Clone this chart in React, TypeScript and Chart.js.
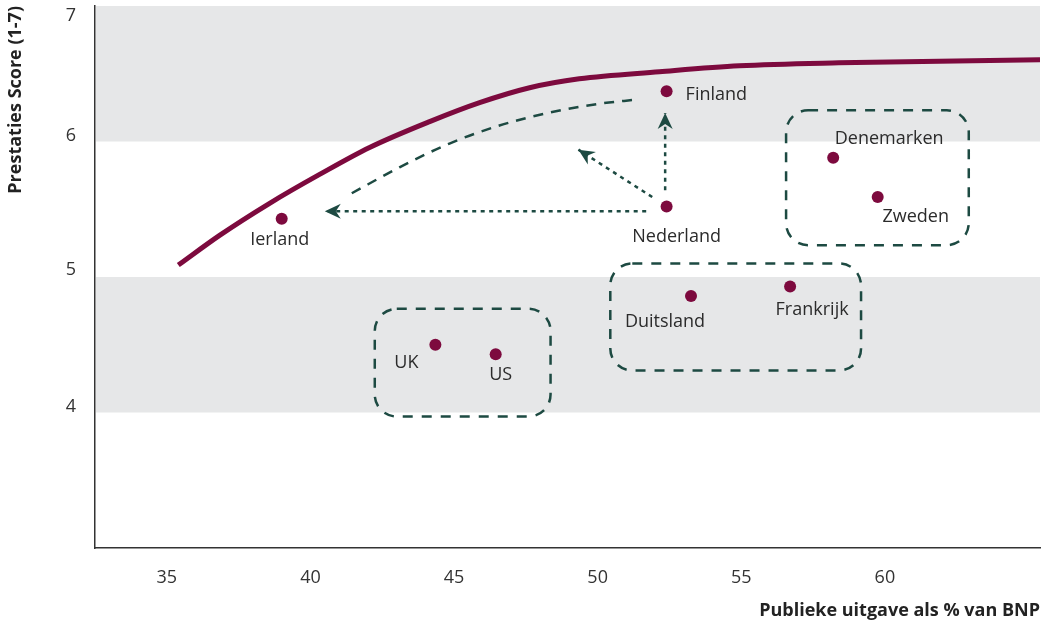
import React, { useEffect, useRef } from "react";
import { Chart, registerables } from "chart.js";

Chart.register(...registerables);

// ---- data ----
const countries = ["Ierland", "UK", "US", "Finland", "Nederland", "Duitsland", "Frankrijk", "Denemarken", "Zweden"];
const spending = [39.0, 44.35, 46.45, 52.4, 52.4, 53.25, 56.7, 58.2, 59.75];
const scores = [5.43, 4.5, 4.43, 6.37, 5.52, 4.86, 4.93, 5.88, 5.59];

const frontierX = [35.4, 36.85, 38.58, 40.32, 42.06, 44.15, 45.89, 47.63, 49.36, 52.15, 54.93, 58.4, 65.4];
const frontierY = [5.088, 5.309, 5.544, 5.757, 5.956, 6.147, 6.287, 6.397, 6.463, 6.515, 6.559, 6.581, 6.603];

const pathX = [41.44, 43.1, 44.84, 46.58, 48.32, 50.06, 51.35];
const pathY = [5.618, 5.809, 5.985, 6.118, 6.213, 6.279, 6.309];

const arrowFromX = [51.69, 52.35, 51.9];
const arrowFromY = [5.485, 5.64, 5.59];
const arrowToX = [40.5, 52.35, 49.33];
const arrowToY = [5.485, 6.21, 5.94];

const boxX0 = [42.24, 50.44, 56.56];
const boxX1 = [48.36, 59.17, 62.92];
const boxY0 = [4.765, 5.1, 6.23];
const boxY1 = [3.97, 4.31, 5.235];

const bandLow = [4, 6];
const bandHigh = [5, 7];

const xTickValues = [35, 40, 45, 50, 55, 60];
const yTickValues = [4, 5, 6, 7];

const xTitle = "Publieke uitgave als % van BNP";
const yTitle = "Prestaties Score (1-7)";

// ---- styles ----
const MAROON = "#7d0a3e";
const GREEN = "#1d4a42";
const BAND = "#e6e7e8";
const TEXT = "#2b2b2b";
const FONT = "'Open Sans', 'Noto Sans', sans-serif";

const LABEL_POS: Record<string, [number, number, CanvasTextAlign]> = {
  Ierland: [-2, 21, "center"],
  UK: [-29, 18, "center"],
  US: [5, 21, "center"],
  Finland: [19, 4, "left"],
  Nederland: [10, 30, "center"],
  Duitsland: [-26, 26, "center"],
  Frankrijk: [22, 23, "center"],
  Denemarken: [56, -19, "center"],
  Zweden: [38, 20, "center"],
};
const Y_LABEL_DY: Record<number, number> = { 4: -6, 5: -7, 6: -6, 7: 10 };

function roundRect(ctx: CanvasRenderingContext2D, x0: number, y0: number, x1: number, y1: number, r: number) {
  ctx.beginPath();
  ctx.moveTo(x0 + r, y0);
  ctx.lineTo(x1 - r, y0);
  ctx.arcTo(x1, y0, x1, y0 + r, r);
  ctx.lineTo(x1, y1 - r);
  ctx.arcTo(x1, y1, x1 - r, y1, r);
  ctx.lineTo(x0 + r, y1);
  ctx.arcTo(x0, y1, x0, y1 - r, r);
  ctx.lineTo(x0, y0 + r);
  ctx.arcTo(x0, y0, x0 + r, y0, r);
  ctx.closePath();
}

const decorPlugin = {
  id: "decor",
  beforeDatasetsDraw(chart: any) {
    const { ctx, chartArea, scales } = chart;
    const y = scales.y;
    ctx.save();
    ctx.fillStyle = BAND;
    for (let i = 0; i < bandLow.length; i++) {
      const top = y.getPixelForValue(bandHigh[i]);
      const bot = y.getPixelForValue(bandLow[i]);
      ctx.fillRect(chartArea.left + 1, top, chartArea.right - chartArea.left - 1, bot - top);
    }
    ctx.restore();
  },
  afterDatasetsDraw(chart: any) {
    const { ctx, scales } = chart;
    const x = scales.x;
    const y = scales.y;
    ctx.save();
    // boxes
    ctx.strokeStyle = GREEN;
    ctx.lineWidth = 2.5;
    ctx.setLineDash([10, 9]);
    for (let i = 0; i < boxX0.length; i++) {
      roundRect(
        ctx,
        x.getPixelForValue(boxX0[i]),
        y.getPixelForValue(boxY0[i]),
        x.getPixelForValue(boxX1[i]),
        y.getPixelForValue(boxY1[i]),
        22
      );
      ctx.stroke();
    }
    ctx.setLineDash([]);
    // arrow heads
    ctx.fillStyle = GREEN;
    for (let i = 0; i < arrowToX.length; i++) {
      const sx = x.getPixelForValue(arrowFromX[i]);
      const sy = y.getPixelForValue(arrowFromY[i]);
      const tx = x.getPixelForValue(arrowToX[i]);
      const ty = y.getPixelForValue(arrowToY[i]);
      const ang = Math.atan2(ty - sy, tx - sx);
      const L = 16, W = 7.5, N = 11;
      ctx.save();
      ctx.translate(tx, ty);
      ctx.rotate(ang);
      ctx.beginPath();
      ctx.moveTo(0, 0);
      ctx.lineTo(-L, -W);
      ctx.lineTo(-N, 0);
      ctx.lineTo(-L, W);
      ctx.closePath();
      ctx.fill();
      ctx.restore();
    }
    // point labels
    ctx.font = `18px ${FONT}`;
    ctx.fillStyle = TEXT;
    ctx.textBaseline = "middle";
    for (let i = 0; i < countries.length; i++) {
      const [dx, dy, align] = LABEL_POS[countries[i]];
      ctx.textAlign = align;
      ctx.fillText(countries[i], x.getPixelForValue(spending[i]) + dx, y.getPixelForValue(scores[i]) + dy);
    }
    // y tick labels
    ctx.textAlign = "right";
    ctx.fillStyle = "#333";
    for (const v of yTickValues) {
      ctx.fillText(String(v), 76, y.getPixelForValue(v) + (Y_LABEL_DY[v] || 0));
    }
    ctx.restore();
  },
};

export default function App() {
  const ref = useRef<HTMLCanvasElement | null>(null);
  useEffect(() => {
    if (!ref.current) return;
    const lineDs = (xs: number[], ys: number[], extra: any) => ({
      type: "scatter",
      data: xs.map((v, i) => ({ x: v, y: ys[i] })),
      showLine: true,
      pointRadius: 0,
      fill: false,
      ...extra,
    });
    const arrowSets = arrowFromX.map((_, i) =>
      lineDs([arrowFromX[i], arrowToX[i]], [arrowFromY[i], arrowToY[i]], {
        borderColor: GREEN,
        borderWidth: 2.5,
        borderDash: [4, 4.5],
        order: 3,
      })
    );
    const chart = new Chart(ref.current, {
      type: "scatter",
      data: {
        datasets: [
          lineDs(frontierX, frontierY, {
            borderColor: MAROON,
            borderWidth: 5,
            cubicInterpolationMode: "monotone",
            order: 4,
          }),
          lineDs(pathX, pathY, {
            borderColor: GREEN,
            borderWidth: 2.5,
            borderDash: [10, 8],
            cubicInterpolationMode: "monotone",
            order: 3,
          }),
          ...arrowSets,
          {
            type: "scatter",
            data: spending.map((v, i) => ({ x: v, y: scores[i] })),
            pointRadius: 6,
            pointBackgroundColor: MAROON,
            pointBorderWidth: 0,
            order: 1,
          },
        ] as any,
      },
      options: {
        responsive: false,
        animation: false,
        layout: { padding: { top: 5, right: 6, left: 0, bottom: 0 } },
        plugins: { legend: { display: false }, tooltip: { enabled: false } },
        scales: {
          x: {
            type: "linear",
            min: 32.5,
            max: 65.4,
            grid: { display: false, drawTicks: false },
            border: { display: true, color: "#333", width: 1.5 },
            ticks: {
              stepSize: 5,
              padding: 19,
              color: "#333",
              font: { family: FONT, size: 18 },
              callback: (v: any) => (xTickValues.includes(Number(v)) ? String(v) : ""),
            },
            title: {
              display: true,
              text: xTitle,
              align: "end",
              color: "#222",
              font: { family: FONT, size: 18, weight: "bold" },
              padding: { top: 0, bottom: 1 },
            },
            afterFit: (s: any) => {
              s.height = 75;
              s.paddingLeft = 0;
              s.paddingRight = 0;
            },
          },
          y: {
            type: "linear",
            min: 3,
            max: 7,
            grid: { display: false, drawTicks: false },
            border: { display: true, color: "#333", width: 1.5 },
            ticks: { stepSize: 1, display: false },
            title: {
              display: true,
              text: yTitle,
              align: "end",
              color: "#222",
              font: { family: FONT, size: 18, weight: "bold" },
              padding: { top: 5, bottom: 0 },
            },
            afterFit: (s: any) => {
              s.width = 95;
              s.paddingTop = 0;
              s.paddingBottom = 0;
            },
          },
        },
      } as any,
      plugins: [decorPlugin],
    });
    return () => chart.destroy();
  }, []);
  return (
    <div style={{ position: "absolute", left: 0, top: 0, width: 1046, height: 623 }}>
      <canvas ref={ref} width={1046} height={623} />
    </div>
  );
}
